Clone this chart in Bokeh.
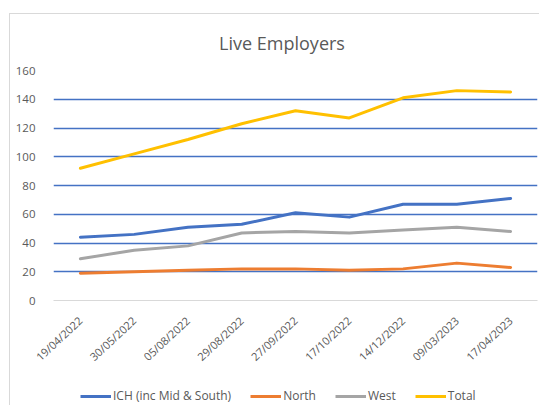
from bokeh.plotting import figure
from bokeh.layouts import column
from bokeh.models import FactorRange, Range1d, FixedTicker, Legend, LegendItem, Label
from bokeh.embed import file_html
from bokeh.resources import INLINE
from math import pi

dates = ["19/04/2022", "30/05/2022", "05/08/2022", "29/08/2022", "27/09/2022",
         "17/10/2022", "14/12/2022", "09/03/2023", "17/04/2023"]
ich = [44, 46, 51, 53, 61, 58, 67, 67, 71]
north = [19, 20, 21, 22, 22, 21, 22, 26, 23]
west = [29, 35, 38, 47, 48, 47, 49, 51, 48]
total = [92, 102, 112, 123, 132, 127, 141, 146, 145]
y_ticks = [0, 20, 40, 60, 80, 100, 120, 140, 160]
series_names = ["ICH (inc Mid & South)", "North", "West", "Total"]
series_colors = ["#4472C4", "#ED7D31", "#A5A5A5", "#FFC000"]
series_values = [ich, north, west, total]
chart_title = "Live Employers"

FONT = "Open Sans"
GREY = "#595959"

# title strip (pixel-unit ranges so the title can be placed exactly)
tf = figure(width=529, height=46, output_backend="svg", toolbar_location=None,
            x_range=Range1d(0, 529), y_range=Range1d(0, 46),
            min_border=0, min_border_left=0, min_border_right=0,
            min_border_top=0, min_border_bottom=0,
            x_axis_location=None, y_axis_location=None)
tf.outline_line_color = None
tf.grid.grid_line_color = None
tf.add_layout(Label(x=181, y=18, text=chart_title, text_font=FONT, text_font_size="18px",
                    text_color=GREY, text_align="left", text_baseline="alphabetic"))

p = figure(width=529, height=318, output_backend="svg", toolbar_location=None,
           x_range=FactorRange(*dates, range_padding=0), y_range=Range1d(0, 160),
           min_border_left=43, min_border_right=2, min_border_top=10, min_border_bottom=78)
p.outline_line_color = None
p.background_fill_color = "white"
p.border_fill_color = "white"

for name, vals, col in zip(series_names, series_values, series_colors):
    p.line(dates, vals, line_color=col, line_width=3, line_join="round", line_cap="round")

p.xgrid.grid_line_color = None
p.ygrid.ticker = FixedTicker(ticks=y_ticks[1:])
p.ygrid.grid_line_color = "#4472C4"
p.ygrid.grid_line_width = 1.3

p.yaxis.ticker = FixedTicker(ticks=y_ticks)
p.yaxis.axis_line_color = None
p.yaxis.major_tick_line_color = None
p.yaxis.minor_tick_line_color = None
p.yaxis.major_label_text_color = GREY
p.yaxis.major_label_text_font = FONT
p.yaxis.major_label_text_font_size = "11.5px"
p.yaxis.major_label_standoff = 12

p.xaxis.axis_line_color = "#D9D9D9"
p.xaxis.major_tick_line_color = None
p.xaxis.major_label_orientation = 43 * pi / 180
p.xaxis.major_label_text_color = GREY
p.xaxis.major_label_text_font = FONT
p.xaxis.major_label_text_font_size = "11px"
p.xaxis.major_label_standoff = 12

# legend strip below the chart
lg = figure(width=529, height=27, output_backend="svg", toolbar_location=None,
            x_range=FactorRange(*dates, range_padding=0), y_range=Range1d(1000, 1001),
            min_border=0, min_border_left=0, min_border_right=0,
            min_border_top=0, min_border_bottom=0,
            x_axis_location=None, y_axis_location=None)
lg.outline_line_color = None
lg.grid.grid_line_color = None
items = []
for name, vals, col in zip(series_names, series_values, series_colors):
    r = lg.line(dates, vals, line_color=col, line_width=3)
    items.append(LegendItem(label=name, renderers=[r]))
legend = Legend(items=items, orientation="horizontal", location=(27, 1),
                label_text_font=FONT, label_text_font_size="12px", label_text_color=GREY,
                glyph_width=31, glyph_height=10, label_height=14, label_standoff=2, spacing=19,
                padding=0, margin=0, background_fill_alpha=0, border_line_color=None)
lg.add_layout(legend, "center")

layout = column(tf, p, lg, spacing=0,
                styles={"margin-left": "9px", "margin-top": "13px",
                        "border-left": "1px solid #D9D9D9", "border-top": "1px solid #D9D9D9"})
open("out.html", "w").write(file_html(layout, INLINE))
